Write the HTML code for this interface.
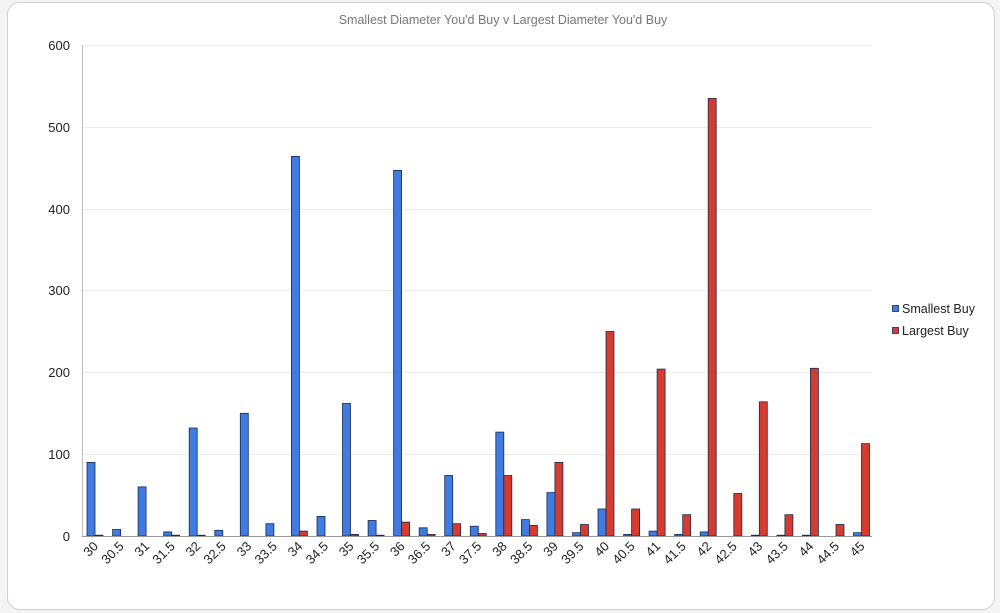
<!DOCTYPE html>
<html><head><meta charset="utf-8"><style>
html,body{margin:0;padding:0;background:#fff;}
svg{display:block;font-family:"Liberation Sans",sans-serif;}
</style></head><body>
<svg width="1000" height="613" viewBox="0 0 1000 613">
<rect x="0" y="0" width="1000" height="613" fill="#f4f4f4"/>
<rect x="7.5" y="2.5" width="987" height="607" rx="12" fill="#fff" stroke="#d0d0d0"/>
<text x="503" y="24" font-size="12.5" fill="#777" text-anchor="middle">Smallest Diameter You'd Buy v Largest Diameter You'd Buy</text>
<g stroke="#ebebeb" stroke-width="1">
<line x1="82" y1="45.5" x2="872" y2="45.5"/><line x1="82" y1="127.5" x2="872" y2="127.5"/>
<line x1="82" y1="209.5" x2="872" y2="209.5"/><line x1="82" y1="290.5" x2="872" y2="290.5"/>
<line x1="82" y1="372.5" x2="872" y2="372.5"/><line x1="82" y1="454.5" x2="872" y2="454.5"/>
</g>
<line x1="82.5" y1="45" x2="82.5" y2="536" stroke="#bbb"/>
<g font-size="13" fill="#222" text-anchor="end">
<text x="70" y="50">600</text><text x="70" y="132">500</text><text x="70" y="214">400</text>
<text x="70" y="295">300</text><text x="70" y="377">200</text><text x="70" y="459">100</text><text x="70" y="541">0</text>
</g>
<g transform="translate(0,536) scale(1,-1)" stroke="#1a2a50" stroke-width="0.8">
<g fill="#3f7be0">
<rect x="87" y="0" width="8" height="73.6"/><rect x="112.6" y="0" width="8" height="6.5"/>
<rect x="138.1" y="0" width="8" height="49.1"/><rect x="163.7" y="0" width="8" height="4.1"/>
<rect x="189.2" y="0" width="8" height="108"/><rect x="214.8" y="0" width="8" height="5.7"/>
<rect x="240.3" y="0" width="8" height="122.7"/><rect x="265.9" y="0" width="8" height="12.3"/>
<rect x="291.4" y="0" width="8" height="379.6"/><rect x="317" y="0" width="8" height="19.6"/>
<rect x="342.5" y="0" width="8" height="132.5"/><rect x="368.1" y="0" width="8" height="15.5"/>
<rect x="393.6" y="0" width="8" height="365.6"/><rect x="419.2" y="0" width="8" height="8.2"/>
<rect x="444.7" y="0" width="8" height="60.5"/><rect x="470.3" y="0" width="8" height="9.8"/>
<rect x="495.8" y="0" width="8" height="103.9"/><rect x="521.4" y="0" width="8" height="16.4"/>
<rect x="546.9" y="0" width="8" height="43.4"/><rect x="572.5" y="0" width="8" height="3.3"/>
<rect x="598" y="0" width="8" height="27"/><rect x="623.6" y="0" width="8" height="1.6"/>
<rect x="649.1" y="0" width="8" height="4.9"/><rect x="674.7" y="0" width="8" height="1.6"/>
<rect x="700.2" y="0" width="8" height="4.1"/>
<rect x="751.3" y="0" width="8" height="0.8"/><rect x="776.9" y="0" width="8" height="0.8"/>
<rect x="802.4" y="0" width="8" height="0.8"/>
<rect x="853.5" y="0" width="8" height="3.3"/>
</g>
<g fill="#d63b30">
<rect x="95" y="0" width="8" height="0.8"/>
<rect x="171.7" y="0" width="8" height="0.8"/><rect x="197.2" y="0" width="8" height="0.8"/>
<rect x="299.4" y="0" width="8" height="4.9"/>
<rect x="350.5" y="0" width="8" height="1.6"/><rect x="376.1" y="0" width="8" height="0.8"/>
<rect x="401.6" y="0" width="8" height="13.9"/><rect x="427.2" y="0" width="8" height="1.6"/>
<rect x="452.7" y="0" width="8" height="12.3"/><rect x="478.3" y="0" width="8" height="2.5"/>
<rect x="503.8" y="0" width="8" height="60.5"/><rect x="529.4" y="0" width="8" height="10.6"/>
<rect x="554.9" y="0" width="8" height="73.6"/><rect x="580.5" y="0" width="8" height="11.5"/>
<rect x="606" y="0" width="8" height="204.5"/><rect x="631.6" y="0" width="8" height="27"/>
<rect x="657.1" y="0" width="8" height="166.9"/><rect x="682.7" y="0" width="8" height="21.3"/>
<rect x="708.2" y="0" width="8" height="437.6"/><rect x="733.8" y="0" width="8" height="42.5"/>
<rect x="759.3" y="0" width="8" height="134.2"/><rect x="784.9" y="0" width="8" height="21.3"/>
<rect x="810.4" y="0" width="8" height="167.7"/><rect x="836" y="0" width="8" height="11.5"/>
<rect x="861.5" y="0" width="8" height="92.4"/>
</g>
</g>
<line x1="82" y1="536.5" x2="872" y2="536.5" stroke="#999"/>
<g font-size="13" fill="#222" text-anchor="end">
<text transform="translate(99,547) rotate(-45)">30</text>
<text transform="translate(124.6,547) rotate(-45)">30.5</text>
<text transform="translate(150.1,547) rotate(-45)">31</text>
<text transform="translate(175.7,547) rotate(-45)">31.5</text>
<text transform="translate(201.2,547) rotate(-45)">32</text>
<text transform="translate(226.8,547) rotate(-45)">32.5</text>
<text transform="translate(252.3,547) rotate(-45)">33</text>
<text transform="translate(277.9,547) rotate(-45)">33.5</text>
<text transform="translate(303.4,547) rotate(-45)">34</text>
<text transform="translate(329,547) rotate(-45)">34.5</text>
<text transform="translate(354.5,547) rotate(-45)">35</text>
<text transform="translate(380.1,547) rotate(-45)">35.5</text>
<text transform="translate(405.6,547) rotate(-45)">36</text>
<text transform="translate(431.2,547) rotate(-45)">36.5</text>
<text transform="translate(456.7,547) rotate(-45)">37</text>
<text transform="translate(482.3,547) rotate(-45)">37.5</text>
<text transform="translate(507.8,547) rotate(-45)">38</text>
<text transform="translate(533.4,547) rotate(-45)">38.5</text>
<text transform="translate(558.9,547) rotate(-45)">39</text>
<text transform="translate(584.5,547) rotate(-45)">39.5</text>
<text transform="translate(610,547) rotate(-45)">40</text>
<text transform="translate(635.6,547) rotate(-45)">40.5</text>
<text transform="translate(661.1,547) rotate(-45)">41</text>
<text transform="translate(686.7,547) rotate(-45)">41.5</text>
<text transform="translate(712.2,547) rotate(-45)">42</text>
<text transform="translate(737.8,547) rotate(-45)">42.5</text>
<text transform="translate(763.3,547) rotate(-45)">43</text>
<text transform="translate(788.9,547) rotate(-45)">43.5</text>
<text transform="translate(814.4,547) rotate(-45)">44</text>
<text transform="translate(840,547) rotate(-45)">44.5</text>
<text transform="translate(865.5,547) rotate(-45)">45</text>
</g>
<rect x="892.5" y="305.5" width="6" height="6" fill="#3f7be0" stroke="#1a2a50" stroke-width="0.8"/>
<text x="902" y="313" font-size="12.5" fill="#222">Smallest Buy</text>
<rect x="892.5" y="327.5" width="6" height="6" fill="#d63b30" stroke="#1a2a50" stroke-width="0.8"/>
<text x="902" y="335" font-size="12.5" fill="#222">Largest Buy</text>
</svg>
</body></html>
